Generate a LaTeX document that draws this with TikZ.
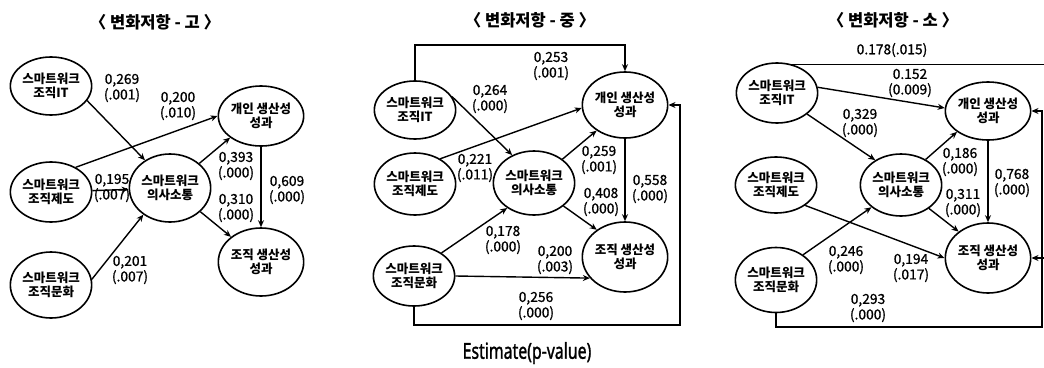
\documentclass[tikz,border=0pt]{standalone}
\usepackage{fontspec}
\setmainfont{Noto Sans CJK KR}
\newfontfamily\labfont[FakeBold=1]{Noto Sans CJK KR}
\newfontfamily\latfont[FakeBold=1.5]{Noto Sans}
\usetikzlibrary{shapes.geometric,arrows.meta,calc}
\begin{document}
\begin{tikzpicture}[x=1pt,y=-1pt,
 nd/.style={draw,ellipse,line width=1.6pt,inner sep=0pt,align=center,font=\fontsize{12.5}{13.5}\selectfont\bfseries},
 arr/.style={line width=1.4pt,-{Stealth[length=7pt,width=6pt]}},
 lb/.style={align=center,font=\labfont\fontsize{13.8}{15.5}\selectfont,inner sep=0pt},
 ttl/.style={font=\fontsize{16.5}{19}\selectfont\bfseries}]
\useasboundingbox (0,0) rectangle (1044,367);
\clip (0,0) rectangle (1044,367);

% ---------- panel 1 ----------
\node[ttl] (t1) at (155,22) {〈 변화저항 - 고 〉};
\node[nd,minimum width=78,minimum height=58] (p1it) at (51,86) {스마트워크\\조직IT};
\node[nd,minimum width=78,minimum height=60] (p1je) at (51,192) {스마트워크\\조직제도};
\node[nd,minimum width=78,minimum height=66] (p1mu) at (51,285) {스마트워크\\조직문화};
\node[nd,minimum width=68,minimum height=68] (p1com) at (170,188) {스마트워크\\의사소통};
\node[nd,minimum width=76,minimum height=60] (p1ind) at (261,116) {개인 생산성\\성과};
\node[nd,minimum width=76,minimum height=68] (p1org) at (261,262) {조직 생산성\\성과};

\draw[arr] (p1it.-22) -- (p1com.132);
\draw[arr] (p1je.45) -- (p1ind.180);
\draw[arr] (p1je) -- (p1com);
\draw[arr] (p1mu.8) -- (p1com.225);
\draw[arr] (p1com.40) -- (p1ind.-145);
\draw[arr] (p1com.-38) -- (p1org.140);
\draw[arr] (p1ind.south) -- (p1org.north);

\node[lb] (l11) at (122,88) {0,269\\(.001)};
\node[lb] (l12) at (178,106) {0,200\\(.010)};
\node[lb] (l13) at (112,188) {0,195\\(.007)};
\node[lb] (l14) at (130,270) {0,201\\(.007)};
\node[lb] (l15) at (236,166) {0,393\\(.000)};
\node[lb] (l16) at (236,208) {0,310\\(.000)};
\node[lb] (l17) at (287,190) {0,609\\(.000)};

% ---------- panel 2 ----------
\node[ttl] (t2) at (530,20) {〈 변화저항 - 중 〉};
\node[nd,minimum width=76,minimum height=58] (p2it) at (415,110) {스마트워크\\조직IT};
\node[nd,minimum width=76,minimum height=62] (p2je) at (415,184) {스마트워크\\조직제도};
\node[nd,minimum width=78,minimum height=60] (p2mu) at (414,276) {스마트워크\\조직문화};
\node[nd,minimum width=68,minimum height=64] (p2com) at (534,183) {스마트워크\\의사소통};
\node[nd,minimum width=80,minimum height=66] (p2ind) at (625,105) {개인 생산성\\성과};
\node[nd,minimum width=80,minimum height=70] (p2org) at (625,257) {조직 생산성\\성과};

\coordinate (p2top) at (0,45);
\coordinate (p2c) at (680,325);
\draw[arr] (p2it.north) -- (p2it.north |- p2top) -| (p2ind.north);
\draw[arr] (p2it.20) -- (p2com.128);
\draw[arr] (p2je.45) -- (p2ind.184);
\draw[arr] (p2mu.40) -- (p2com.223);
\draw[arr] (p2mu.east) -- (p2org.211);
\draw[arr] (p2mu.south) |- (p2c) |- (p2ind.east);
\draw[arr] (p2com.40) -- (p2ind.222);
\draw[arr] (p2com.-38) -- (p2org.136);
\draw[arr] (p2ind.south) -- (p2org.north);

\node[lb] (l21) at (551,66) {0,253\\(.001)};
\node[lb] (l22) at (490,99) {0,264\\(.000)};
\node[lb] (l23) at (475,168) {0,221\\(.011)};
\node[lb] (l24) at (503,240) {0,178\\(.000)};
\node[lb] (l25) at (555,260) {0,200\\(.003)};
\node[lb] (l26) at (536,306) {0,256\\(.000)};
\node[lb] (l27) at (599,160) {0,259\\(.001)};
\node[lb] (l28) at (601,202) {0,408\\(.000)};
\node[lb] (l29) at (650,189) {0,558\\(.000)};

% ---------- panel 3 ----------
\node[ttl] (t3) at (893,20) {〈 변화저항 - 소 〉};
\node[nd,minimum width=80,minimum height=60] (p3it) at (777,93) {스마트워크\\조직IT};
\node[nd,minimum width=78,minimum height=56] (p3je) at (776,185) {스마트워크\\조직제도};
\node[nd,minimum width=78,minimum height=65] (p3mu) at (776,280) {스마트워크\\조직문화};
\node[nd,minimum width=78,minimum height=62] (p3com) at (901,185) {스마트워크\\의사소통};
\node[nd,minimum width=78,minimum height=58] (p3ind) at (988,111) {개인 생산성\\성과};
\node[nd,minimum width=77,minimum height=70] (p3org) at (988,258) {조직 생산성\\성과};

\coordinate (p3far) at (1052,0);
\coordinate (p3c) at (1042,327);
\draw[arr] (p3it.62) -- (p3it.62 -| p3far) |- (p3org.east);
\draw[arr] (p3it.8) -- (p3ind.176);
\draw[arr] (p3it.-35) -- (p3com.136);
\draw[arr] (p3com.46) -- (p3ind.214);
\draw[arr] (p3com.-40) -- (p3org.138);
\draw[arr] (p3ind.south) -- (p3org.north);
\draw[arr] (p3je.-35) -- (p3org.180);
\draw[arr] (p3mu.43) -- (p3com.217);
\draw[arr] (p3mu.south) |- (p3c) |- (p3ind.east);

\node[lb] (l31) at (892,50) {0.178(.015)};
\node[lb] (l32) at (910,83) {0.152\\(0.009)};
\node[lb] (l33) at (860,123) {0,329\\(.000)};
\node[lb] (l34) at (960,162) {0,186\\(.000)};
\node[lb] (l35) at (963,203) {0,311\\(.000)};
\node[lb] (l36) at (1012,183) {0,768\\(.000)};
\node[lb] (l37) at (911,268) {0,194\\(.017)};
\node[lb] (l38) at (846,260) {0,246\\(.000)};
\node[lb] (l39) at (868,308) {0,293\\(.000)};

\node[inner sep=0pt] (est) at (527,353) {\latfont\fontsize{22}{24}\selectfont\scalebox{0.72}[1]{Estimate(p-value)}};
\end{tikzpicture}
\end{document}
